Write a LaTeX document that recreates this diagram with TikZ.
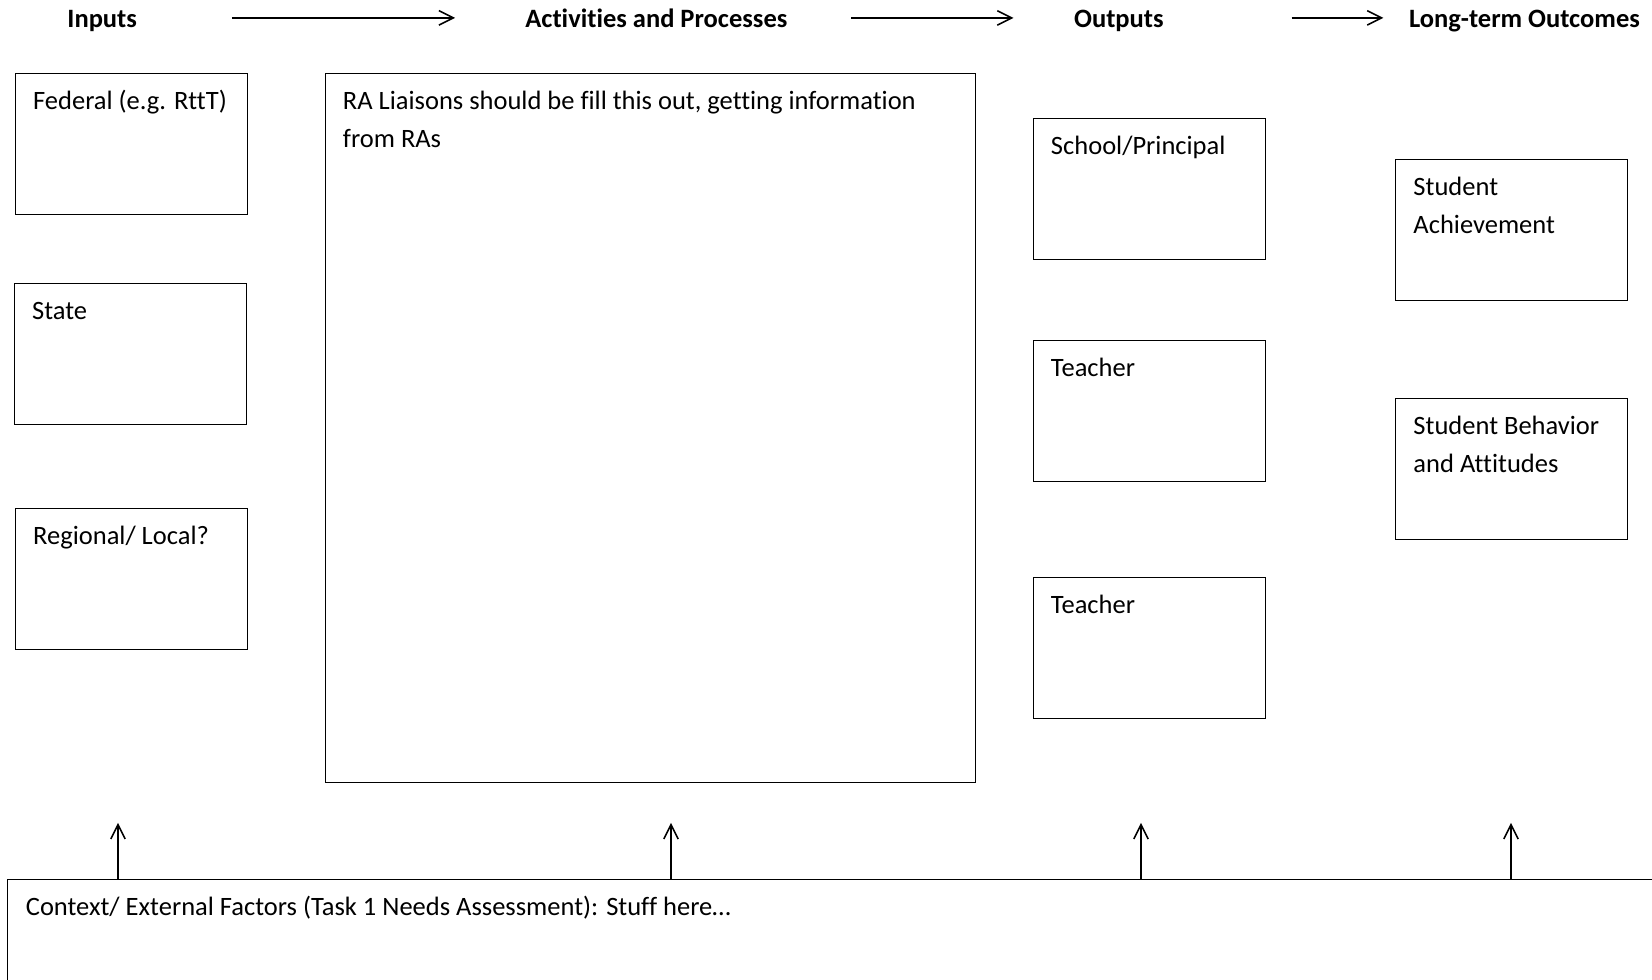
\documentclass[tikz,border=0pt]{standalone}
\usepackage{fontspec}
\setmainfont{Carlito}[Ligatures=CommonOff]
\usetikzlibrary{arrows.meta,positioning}
\newcommand\pxu{0.415pt}

\begin{document}
\begin{tikzpicture}[
    x=\pxu, y=-\pxu,
    font=\fontsize{11}{15.8}\selectfont,
    box/.style={rectangle, draw, line width=0.45pt, anchor=north west, inner sep=0pt,
        minimum width=232*\pxu, minimum height=141*\pxu},
    boxtext/.style={anchor=north west, inner sep=0pt, align=left, xshift=18*\pxu, yshift=-9.3*\pxu},
    head/.style={font=\fontsize{11}{15.8}\selectfont\bfseries, anchor=base, inner sep=0pt},
    arrow/.style={-{Straight Barb[length=6pt,width=6pt]}, line width=0.65pt}
]
\useasboundingbox (0,0) rectangle (1652,980);
\clip (0,0) rectangle (1652,980);

% Column headings
\node[head] (hin) at (102.2, 27.5) {Inputs};
\node[head] (hact) at (656.4, 27.5) {Activities and Processes};
\node[head] (hout) at (1118.9, 27.5) {Outputs};
\node[head, anchor=base west] (hlong) at (1408.6, 27.5) {Long-term Outcomes};
\coordinate (ha1) at (231.8, 17.9); \coordinate (hb1) at (455.1, 17.9);
\coordinate (ha2) at (851.3, 17.9); \coordinate (hb2) at (1013.5, 17.9);
\coordinate (ha3) at (1291.7, 17.9); \coordinate (hb3) at (1383.4, 17.9);
\draw[arrow] (ha1) -- (hb1);
\draw[arrow] (ha2) -- (hb2);
\draw[arrow] (ha3) -- (hb3);

% Inputs
\node[box] (fed) at (14.7, 72.7) {};
\node[boxtext] (fedtxt) at (fed.north west) {\strut Federal (e.g. RttT)};
\node[box] (state) at (13.7, 283.4) {};
\node[boxtext] (statetxt) at (state.north west) {\strut State};
\node[box] (reg) at (14.7, 507.8) {};
\node[boxtext] (regtxt) at (reg.north west) {\strut Regional/ Local?};

% Activities and processes
\node[box, minimum width=650*\pxu, minimum height=709*\pxu] (ra) at (324.5, 72.7) {};
\node[boxtext] (ratxt) at (ra.north west) {\strut RA Liaisons should be fill this out, getting information\\from RAs};

% Outputs
\node[box] (school) at (1032.5, 118) {};
\node[boxtext] (schooltxt) at (school.north west) {\strut School/Principal};
\node[box] (teachA) at (1032.5, 340.3) {};
\node[boxtext] (teachAtxt) at (teachA.north west) {\strut Teacher};
\node[box] (teachB) at (1032.5, 577.4) {};
\node[boxtext] (teachBtxt) at (teachB.north west) {\strut Teacher};

% Long-term outcomes
\node[box] (achieve) at (1395, 159.1) {};
\node[boxtext] (achievetxt) at (achieve.north west) {\strut Student\\Achievement};
\node[box] (behave) at (1395, 398.2) {};
\node[boxtext] (behavetxt) at (behave.north west) {\strut Student Behavior\\and Attitudes};

% Context
\node[box, minimum width=1700*\pxu, minimum height=160*\pxu] (ctx) at (7.4, 878.7) {};
\node[boxtext] (ctxtxt) at (ctx.north west) {\strut Context/ External Factors (Task 1 Needs Assessment): Stuff here…};
\coordinate (upA) at (118, 822.8);
\coordinate (upB) at (671, 822.8);
\coordinate (upC) at (1141, 822.8);
\coordinate (upD) at (1511, 822.8);
\foreach \c in {upA,upB,upC,upD}
    \draw[arrow] (ctx.north -| \c) -- (\c);
\end{tikzpicture}
\end{document}
